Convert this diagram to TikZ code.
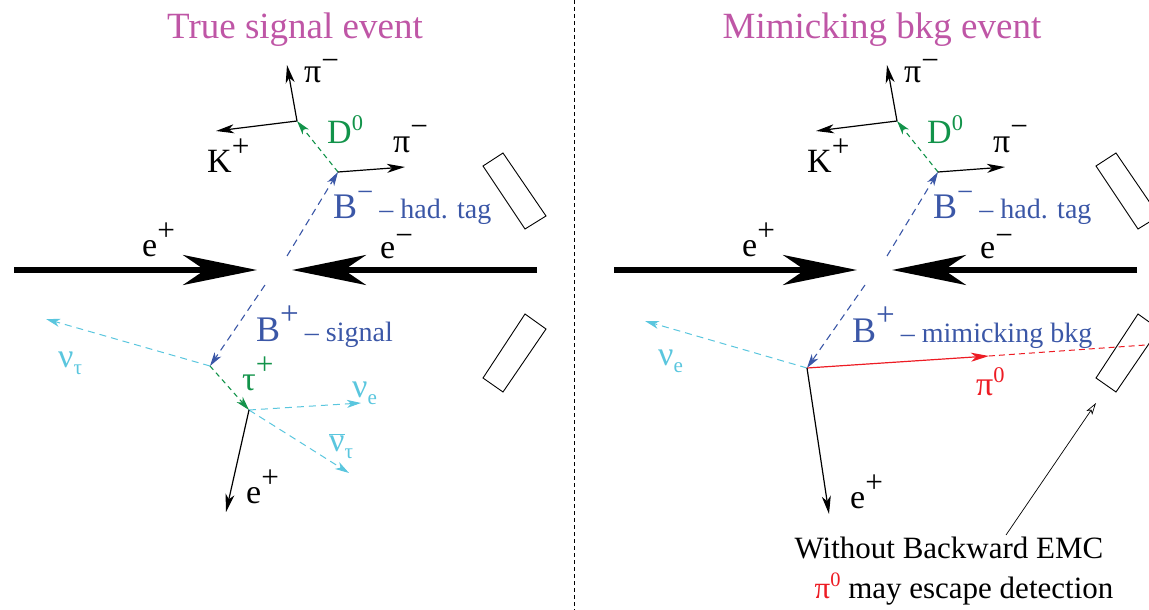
\documentclass[tikz,border=0pt]{standalone}
\usepackage{fontspec}
\usepackage{graphicx}
\setmainfont{Liberation Serif}
\usetikzlibrary{arrows.meta}
\definecolor{ttl}{RGB}{191,86,166}
\definecolor{bblue}{RGB}{59,87,167}
\definecolor{dgreen}{RGB}{18,147,74}
\definecolor{nucyan}{RGB}{90,198,222}
\definecolor{pired}{RGB}{237,28,36}
\newcommand\chg[1]{\raisebox{0.45em}{\scalebox{0.92}{#1}}}
\newcommand\lowchg[1]{\raisebox{0.36em}{\scalebox{0.92}{#1}}}
\newcommand\zer{\raisebox{0.38em}{\scalebox{0.66}{0}}}
\newcommand\sbs[1]{\raisebox{-0.22em}{\scalebox{0.62}{#1}}}
\tikzset{
  decay/.style={line width=1.2pt, -{Stealth[length=18pt,width=9pt,inset=5pt]}},
  sdecay/.style={line width=1.1pt, -{Stealth[length=14pt,width=8pt,inset=4pt]}},
  dsh/.style={dash pattern=on 7pt off 5pt},
  beam/.style={line width=5.5pt, -{Stealth[length=74pt,width=30pt,inset=22pt]}},
  lbl/.style={inner sep=0pt, anchor=base west, font=\fontsize{34}{36}\selectfont},
  blbl/.style={inner sep=0pt, anchor=base west, text=bblue, font=\fontsize{36}{38}\selectfont},
  ttlf/.style={inner sep=0pt, anchor=base, text=ttl, font=\fontsize{37}{40}\selectfont},
  note/.style={inner sep=0pt, anchor=base, font=\fontsize{31}{34}\selectfont},
  det/.style={draw, line width=0.9pt},
}
\begin{document}
\begin{tikzpicture}[x=1pt,y=-1pt]
\useasboundingbox (0,0) rectangle (1149,610);
\clip (0,0) rectangle (1149,610);
% titles
\node[ttlf] (t1) at (295,39) {True signal event};
\node[ttlf] (t2) at (882,39) {Mimicking bkg event};
% divider
\coordinate (dv1) at (574,0);
\coordinate (dv2) at (574,610);
\draw[dash pattern=on 4pt off 3pt, line width=0.8pt] (dv1) -- (dv2);
% common parts of both panels
\foreach \p/\s/\bs in {L/0/0, R/600/613}{
  % beams
  \coordinate (\p-b1s) at (14+\s,270);
  \coordinate (\p-b1e) at (257+\s,270);
  \coordinate (\p-b2s) at (537+\s,270);
  \coordinate (\p-b2e) at (292+\s,270);
  \draw[beam] (\p-b1s) -- (\p-b1e);
  \draw[beam] (\p-b2s) -- (\p-b2e);
  \node[lbl] (\p-lep) at (142+\s,256) {e\chg{+}};
  \node[lbl] (\p-lem) at (380+\s,258) {e\lowchg{−}};
  % tag side
  \coordinate (\p-Bt0) at (287+\s,256);
  \coordinate (\p-Bv) at (338+\s,172);
  \coordinate (\p-Dv) at (297+\s,121);
  \coordinate (\p-pi1) at (287+\s,65);
  \coordinate (\p-K) at (216+\s,131);
  \coordinate (\p-pi2) at (405+\s,167);
  \draw[sdecay,dsh,bblue] (\p-Bt0) -- (\p-Bv);
  \draw[sdecay,dgreen,dash pattern=on 5pt off 4pt] (\p-Bv) -- (\p-Dv);
  \draw[decay] (\p-Dv) -- (\p-pi1);
  \draw[decay] (\p-Dv) -- (\p-K);
  \draw[decay] (\p-Bv) -- (\p-pi2);
  \node[lbl] (\p-lpi1) at (304+\s,83) {π\lowchg{−}};
  \node[lbl] (\p-lK) at (207+\s,172) {K\chg{+}};
  \node[lbl,text=dgreen] (\p-lD) at (327+\s,143) {D\zer};
  \node[lbl] (\p-lpi2) at (393+\s,152) {π\chg{−}};
  \node[blbl] (\p-lB) at (333+\s,218) {B\raisebox{0.45em}{\scalebox{0.8}{−}}\,{\fontsize{28}{30}\selectfont – had. tag}};
  % detector boxes
  \draw[det] (483+\bs,166) -- (503+\bs,153) -- (546+\bs,216) -- (525+\bs,229) -- cycle;
  \draw[det] (483+\bs,378) -- (503+\bs,392) -- (546+\bs,329) -- (525+\bs,314) -- cycle;
}
% left: signal side
\coordinate (L-Bs0) at (265,285);
\coordinate (L-Sv) at (210,366);
\coordinate (L-Tv) at (249,410);
\coordinate (L-nt) at (46,319);
\coordinate (L-ne) at (361,403);
\coordinate (L-ntb) at (349,473);
\coordinate (L-e) at (226,512);
\draw[sdecay,dsh,bblue] (L-Bs0) -- (L-Sv);
\draw[sdecay,dgreen,dash pattern=on 5pt off 4pt] (L-Sv) -- (L-Tv);
\draw[sdecay,dsh,nucyan,line width=1pt] (L-Sv) -- (L-nt);
\draw[sdecay,dsh,nucyan,line width=1pt] (L-Tv) -- (L-ne);
\draw[sdecay,dsh,nucyan,line width=1pt] (L-Tv) -- (L-ntb);
\draw[decay] (L-Tv) -- (L-e);
\node[blbl] (L-lB) at (256,341) {B\chg{+}\,{\fontsize{28}{30}\selectfont – signal}};
\node[lbl,text=nucyan] (L-lnt) at (58,367) {ν\sbs{τ}};
\node[lbl,text=dgreen] (L-ltau) at (242,390) {τ\chg{+}};
\node[lbl,text=nucyan] (L-lne) at (352,397) {ν\sbs{e}};
\node[lbl,text=nucyan] (L-lntb) at (329,451) {$\overline{\hbox{ν}}$\sbs{τ}};
\node[lbl] (L-le) at (246,503) {e\chg{+}};
% right: mimicking background side
\coordinate (R-Bs0) at (865,285);
\coordinate (R-Mv) at (807,368);
\coordinate (R-nue) at (645,321);
\coordinate (R-pi0) at (989,356);
\coordinate (R-pi0end) at (1160,344);
\coordinate (R-e) at (829,514);
\coordinate (R-a0) at (1006,535);
\coordinate (R-a1) at (1096,403);
\draw[sdecay,dsh,bblue] (R-Bs0) -- (R-Mv);
\draw[sdecay,dsh,nucyan,line width=1pt] (R-Mv) -- (R-nue);
\draw[decay,pired] (R-Mv) -- (R-pi0);
\draw[pired,dash pattern=on 6pt off 4pt,line width=1pt] (R-pi0) -- (R-pi0end);
\draw[decay] (R-Mv) -- (R-e);
\draw[line width=0.7pt,-{Stealth[open,length=12pt,width=7pt,inset=3pt]}] (R-a0) -- (R-a1);
\node[blbl] (R-lB) at (852,342) {B\chg{+}\,{\fontsize{28}{30}\selectfont – mimicking bkg}};
\node[lbl,text=nucyan] (R-lne) at (658,365) {ν\sbs{e}};
\node[lbl,text=pired] (R-lpi0) at (976,395) {π\zer};
\node[lbl] (R-le) at (850,508) {e\chg{+}};
\node[note] (R-n1) at (949,558) {Without Backward EMC};
\node[note] (R-n2) at (964,598) {\textcolor{pired}{π\zer} may escape detection};
\end{tikzpicture}
\end{document}
